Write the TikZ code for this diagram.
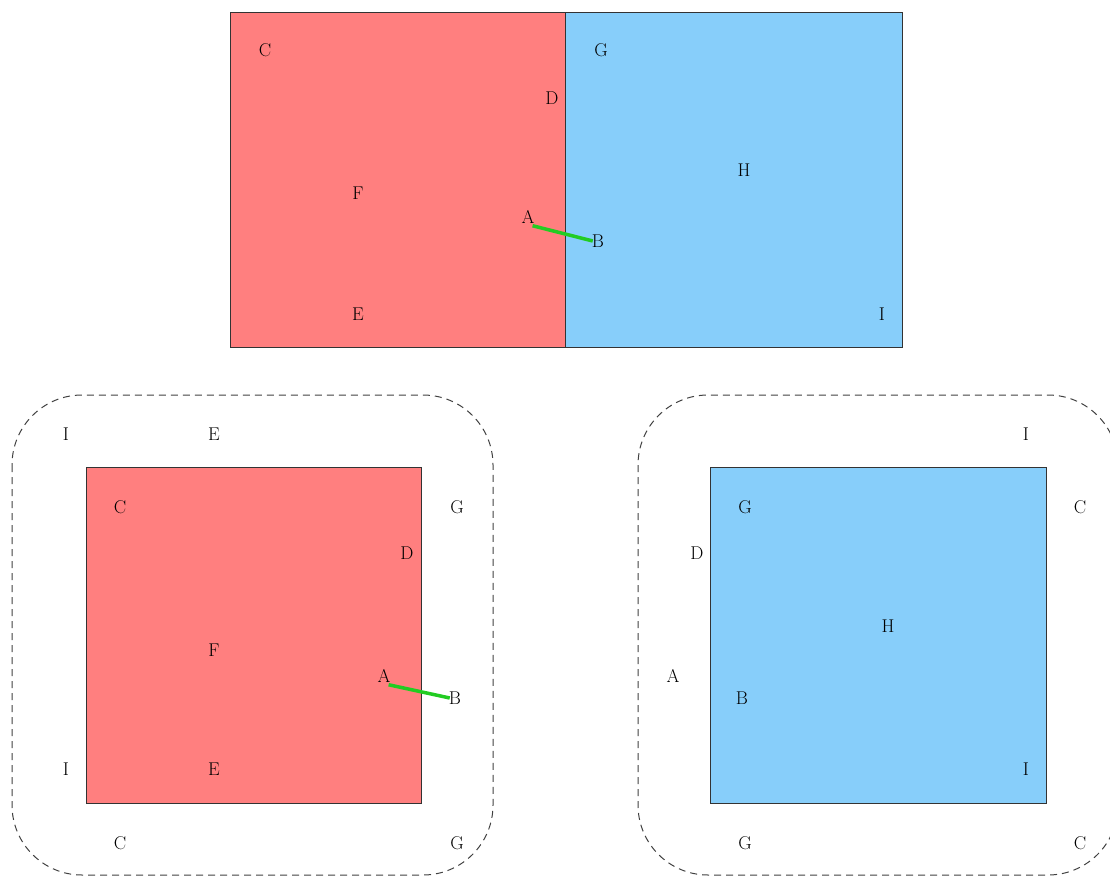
\documentclass[tikz,border=0pt]{standalone}
\usepackage{tikz}
\definecolor{redfill}{HTML}{FF7F7F}
\definecolor{bluefill}{HTML}{87CEFA}
\definecolor{linkgreen}{HTML}{22CC22}
\definecolor{edgegray}{HTML}{333333}
\begin{document}
\begin{tikzpicture}[x=1pt,y=-1pt,
  lbl/.style={font=\fontsize{18.5}{21}\selectfont, inner sep=0pt},
  redface/.style={fill=redfill, draw=edgegray, line width=0.9pt},
  blueface/.style={fill=bluefill, draw=edgegray, line width=0.9pt},
  halo/.style={draw=black!75, dashed, dash pattern=on 7pt off 5pt, line width=1pt, rounded corners=70pt},
  link/.style={draw=linkgreen, line width=3.5pt}]
\useasboundingbox (0,0) rectangle (1110,877);
\clip (0,0) rectangle (1110,877);
% top
\path[redface] (230,12) rectangle (565,347);
\path[blueface] (565,12) rectangle (902,347);
\node[lbl] (tC) at (265,50) {C};
\node[lbl] (tG) at (601,50) {G};
\node[lbl] (tD) at (552,98) {D};
\node[lbl] (tH) at (744,170) {H};
\node[lbl] (tF) at (358,193) {F};
\node[lbl] (tA) at (528,217) {A};
\node[lbl] (tB) at (598,241) {B};
\node[lbl] (tE) at (358,314) {E};
\node[lbl] (tI) at (882,314) {I};
\draw[link] ([xshift=-2pt,yshift=-2pt]tA.south east) -- ([xshift=1pt]tB.west);
% bottom left
\path[halo] (12,395) rectangle (493,875);
\path[redface] (86,467) rectangle (421,803);
\node[lbl] (lI1) at (66,434) {I};
\node[lbl] (lE1) at (214,434) {E};
\node[lbl] (lC1) at (120,507) {C};
\node[lbl] (lG1) at (457,507) {G};
\node[lbl] (lD) at (407,553) {D};
\node[lbl] (lF) at (214,650) {F};
\node[lbl] (lA) at (384,676) {A};
\node[lbl] (lB) at (455,698) {B};
\node[lbl] (lI2) at (66,769) {I};
\node[lbl] (lE2) at (214,769) {E};
\node[lbl] (lC2) at (120,843) {C};
\node[lbl] (lG2) at (457,843) {G};
\draw[link] ([xshift=-2pt,yshift=-2pt]lA.south east) -- ([xshift=1pt]lB.west);
% bottom right
\path[halo] (638,395) rectangle (1118,875);
\path[blueface] (710,467) rectangle (1046,803);
\node[lbl] (rI1) at (1026,434) {I};
\node[lbl] (rG1) at (745,507) {G};
\node[lbl] (rC1) at (1080,507) {C};
\node[lbl] (rD) at (697,553) {D};
\node[lbl] (rH) at (888,626) {H};
\node[lbl] (rA) at (673,676) {A};
\node[lbl] (rB) at (742,698) {B};
\node[lbl] (rI2) at (1026,769) {I};
\node[lbl] (rG2) at (745,843) {G};
\node[lbl] (rC2) at (1080,843) {C};
\end{tikzpicture}
\end{document}
